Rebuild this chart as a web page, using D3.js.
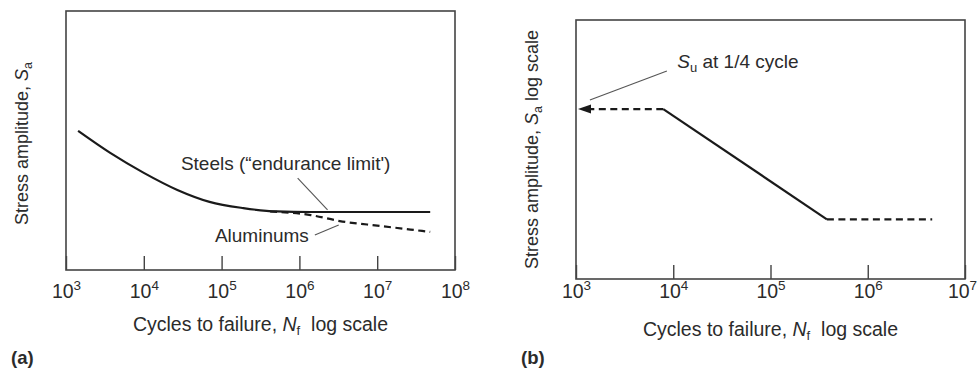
<!DOCTYPE html>
<html lang="en">
  <head>
    <meta charset="utf-8" />
    <title>S-N curves</title>
    <script src="https://cdnjs.cloudflare.com/ajax/libs/d3/7.8.5/d3.min.js"></script>
    <style type="text/css">
      body { margin: 0; background: #fff; }
      text { font-family: "Liberation Sans", Arial, Helvetica, sans-serif; fill: #2b2b2b; }
      .frame { fill: none; stroke: #444; stroke-width: 1.6; }
      .solid { fill: none; stroke: #1a1a1a; stroke-width: 2.2; }
      .dashed { fill: none; stroke: #1a1a1a; stroke-width: 2.2; stroke-dasharray: 7, 4.5; }
      .leader { stroke: #555; stroke-width: 1.1; }
    </style>
  </head>

  <body>
    <script>
      const width = 978;
      const height = 370;

      // panel (a): cycles to failure vs stress amplitude (arbitrary linear units)
      const decadesA = [1e3, 1e4, 1e5, 1e6, 1e7, 1e8];
      const steelN = [1.43e3, 3.7e3, 1e4, 2.7e4, 7e4, 1.9e5, 5.1e5, 1.4e6, 4.8e7];
      const steelS = [53.7, 45.2, 37.5, 30.9, 26.3, 23.9, 22.6, 22.4, 22.4];
      const aluminumN = [4.2e5, 1.4e6, 3.3e6, 1.1e7, 4.8e7];
      const aluminumS = [22.6, 21.2, 18.9, 17.0, 14.7];

      // panel (b): idealised log-log line (arbitrary stress units)
      const decadesB = [1e3, 1e4, 1e5, 1e6, 1e7];
      const idealN = [1e3, 7.9e3, 3.8e5, 4.6e6];
      const idealS = [453, 453, 170, 170];

      const svg = d3.select('body').append('svg')
        .attr('width', width)
        .attr('height', height)
        .attr('viewBox', [0, 0, width, height]);

      function xAxisLabels(g, yOff) {
        g.select('.domain').remove();
        g.selectAll('.tick line').attr('stroke', '#444').attr('stroke-width', 1.4);
        g.selectAll('.tick text').each(function(d) {
          const t = d3.select(this)
            .attr('y', yOff).attr('dy', null)
            .attr('font-size', 19.5).attr('fill', '#2b2b2b')
            .text('10');
          t.append('tspan')
            .attr('dy', -8).attr('font-size', 13.5)
            .text(Math.round(Math.log10(d)));
        });
      }

      function xTitle(cx, cy) {
        const t = svg.append('text')
          .attr('x', cx).attr('y', cy)
          .attr('text-anchor', 'middle').attr('font-size', 19.5);
        t.append('tspan').text('Cycles to failure, ');
        t.append('tspan').attr('font-style', 'italic').text('N');
        t.append('tspan').attr('font-size', 13).attr('dy', 4).text('f');
        t.append('tspan').attr('dy', -4).text('\u00a0 log scale');
      }

      // ---- panel (a)
      {
        const left = 66, right = 455, top = 11, bottom = 270;
        const x = d3.scaleLog([1e3, 1e8], [left, right]);
        const y = d3.scaleLinear([0, 100], [bottom, top]);
        const line = d3.line().x(d => x(d[0])).y(d => y(d[1])).curve(d3.curveMonotoneX);

        svg.append('g')
          .attr('transform', `translate(0, ${bottom})`)
          .call(d3.axisBottom(x).tickValues(decadesA).tickSize(-14).tickSizeOuter(0))
          .call(g => xAxisLabels(g, 28));

        svg.append('rect').attr('class', 'frame')
          .attr('x', left).attr('y', top)
          .attr('width', right - left).attr('height', bottom - top);

        svg.append('path').attr('class', 'dashed')
          .attr('d', line(d3.zip(aluminumN, aluminumS)));
        svg.append('path').attr('class', 'solid')
          .attr('d', line(d3.zip(steelN, steelS)));

        svg.append('line').attr('class', 'leader')
          .attr('x1', x(9.5e5)).attr('y1', y(35.5))
          .attr('x2', x(2.3e6)).attr('y2', y(23.2));
        svg.append('text')
          .attr('x', x(3e4)).attr('y', y(38.6))
          .attr('font-size', 19)
          .text('Steels (\u201cendurance limit\')');

        svg.append('line').attr('class', 'leader')
          .attr('x1', x(1.58e6)).attr('y1', y(13.5))
          .attr('x2', x(3.2e6)).attr('y2', y(17.4));
        svg.append('text')
          .attr('x', x(8.2e4)).attr('y', y(10.8))
          .attr('font-size', 19)
          .text('Aluminums');

        xTitle((left + right) / 2, 331);

        const yt = svg.append('text')
          .attr('transform', `translate(28, ${(top + bottom) / 2 + 3}) rotate(-90)`)
          .attr('text-anchor', 'middle').attr('font-size', 18);
        yt.append('tspan').text('Stress amplitude, ');
        yt.append('tspan').attr('font-style', 'italic').text('S');
        yt.append('tspan').attr('font-size', 12.5).attr('dy', 4).text('a');

        svg.append('text')
          .attr('x', 11).attr('y', 364)
          .attr('font-size', 18.5).attr('font-weight', 'bold')
          .text('(a)');
      }

      // ---- panel (b)
      {
        const left = 576, right = 965, top = 20, bottom = 279;
        const x = d3.scaleLog([1e3, 1e7], [left, right]);
        const y = d3.scaleLog([100, 1000], [bottom, top]);
        const pt = i => [x(idealN[i]), y(idealS[i])];

        svg.append('g')
          .attr('transform', `translate(0, ${bottom})`)
          .call(d3.axisBottom(x).tickValues(decadesB).tickSize(-14).tickSizeOuter(0))
          .call(g => xAxisLabels(g, 19))
          // last label sits against the page edge
          .call(g => g.selectAll('.tick text').filter(d => d === 1e7).attr('dx', -3));

        svg.append('rect').attr('class', 'frame')
          .attr('x', left).attr('y', top)
          .attr('width', right - left).attr('height', bottom - top);

        const p0 = pt(0);
        svg.append('path').attr('class', 'dashed')
          .attr('d', d3.line()([pt(1), [p0[0] + 12, p0[1]]]));
        svg.append('path')
          .attr('d', `M${p0[0] + 2},${p0[1]}l13,-4.5l0,9z`)
          .attr('fill', '#1a1a1a');
        svg.append('path').attr('class', 'solid')
          .attr('d', d3.line()([pt(1), pt(2)]));
        svg.append('path').attr('class', 'dashed')
          .attr('d', d3.line()([pt(2), pt(3)]));

        svg.append('line').attr('class', 'leader')
          .attr('x1', x(1.39e3)).attr('y1', y(491))
          .attr('x2', x(8.6e3)).attr('y2', y(635));
        const su = svg.append('text')
          .attr('x', x(1.1e4)).attr('y', y(653))
          .attr('font-size', 19);
        su.append('tspan').attr('font-style', 'italic').text('S');
        su.append('tspan').attr('font-size', 13).attr('dy', 4).text('u');
        su.append('tspan').attr('dy', -4).text(' at 1/4 cycle');

        xTitle((left + right) / 2, 336);

        const yt = svg.append('text')
          .attr('transform', `translate(538, ${(top + bottom) / 2}) rotate(-90)`)
          .attr('text-anchor', 'middle').attr('font-size', 18);
        yt.append('tspan').text('Stress amplitude, ');
        yt.append('tspan').attr('font-style', 'italic').text('S');
        yt.append('tspan').attr('font-size', 12.5).attr('dy', 4).text('a');
        yt.append('tspan').attr('dy', -4).text(' log scale');

        svg.append('text')
          .attr('x', 521).attr('y', 364)
          .attr('font-size', 18.5).attr('font-weight', 'bold')
          .text('(b)');
      }
    </script>
  </body>
</html>
